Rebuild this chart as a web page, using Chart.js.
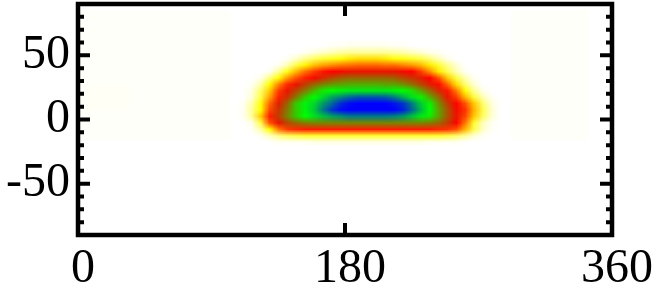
<!DOCTYPE html>
<html>
<head>
<meta charset="utf-8">
<script src="https://cdn.jsdelivr.net/npm/chart.js@4.4.1/dist/chart.umd.min.js"></script>
<style>
  html, body { margin: 0; padding: 0; background: #fff; }
  #wrap { width: 659px; height: 290px; }
</style>
</head>
<body>
<div id="wrap"><canvas id="heatChart" width="659" height="290"></canvas></div>
<script>
// cell centres of the heat patch (degrees)
const lonCenters = [105, 111, 117, 123, 129, 135, 141, 147, 153, 159, 165, 171, 177, 183, 189, 195,
                    201, 207, 213, 219, 225, 231, 237, 243, 249, 255, 261, 267, 273, 279, 285, 291];
const latCenters = [62.5, 57.5, 52.5, 47.5, 42.5, 37.5, 32.5, 27.5, 22.5, 17.5, 12.5, 7.5, 2.5,
                    -2.5, -7.5, -12.5, -17.5];

// intensity in percent, one row per latitude (top row first)
const heatRows = [
  [0,0,0,0,0,0,0,0,0,0,0,0,0,0,0,0,0,0,0,0,0,0,0,0,0,0,0,0,0,0,0,0],
  [0,0,0,0,0,0,0,0,0,0,0,1,1,2,2,2,2,2,1,1,0,0,0,0,0,0,0,0,0,0,0,0],
  [0,0,0,0,0,0,0,0,1,3,5,7,9,10,10,10,10,10,9,8,6,4,2,1,0,0,0,0,0,0,0,0],
  [0,0,0,0,0,0,1,5,11,16,20,22,24,27,28,28,28,27,24,23,21,18,13,7,2,0,0,0,0,0,0,0],
  [0,0,0,0,0,1,7,18,26,31,34,36,38,39,40,40,40,39,39,37,35,32,27,20,11,4,0,0,0,0,0,0],
  [0,0,0,0,1,10,23,32,39,44,48,50,51,52,52,52,52,52,52,51,50,44,36,27,17,7,1,0,0,0,0,0],
  [0,0,0,2,12,25,35,42,47,51,54,57,59,60,60,60,60,60,59,57,55,53,50,42,30,18,7,1,0,0,0,0],
  [0,0,1,8,25,37,46,52,56,60,63,65,66,67,67,67,67,66,66,64,61,57,53,49,40,28,14,4,0,0,0,0],
  [0,0,3,15,30,44,52,57,62,68,73,75,76,77,77,77,77,77,76,75,72,66,60,54,48,38,25,10,2,0,0,0],
  [0,0,4,18,34,47,55,62,70,75,79,84,87,90,92,92,92,91,88,83,78,74,67,60,52,44,32,19,7,1,0,0],
  [0,1,8,24,40,53,60,70,76,79,85,90,96,99,100,100,100,100,98,95,88,80,74,64,56,50,42,30,14,3,0,0],
  [0,1,10,25,43,55,62,70,76,80,88,95,99,100,100,100,100,100,100,97,90,82,75,66,58,51,45,32,17,4,0,0],
  [0,1,10,30,47,56,63,70,75,78,81,84,86,88,88,88,88,88,87,85,81,77,73,66,58,52,43,30,15,4,0,0],
  [0,0,2,18,42,52,57,60,62,63,63,63,63,63,63,63,63,63,63,63,63,63,62,60,56,50,38,20,6,1,0,0],
  [0,0,1,8,25,38,44,46,47,47,47,47,47,47,47,47,47,47,47,47,47,47,47,46,45,42,32,17,5,1,0,0],
  [0,0,0,1,6,12,16,18,20,20,20,20,20,20,20,20,20,20,20,20,20,20,20,20,18,15,10,4,1,0,0,0],
  [0,0,0,0,0,1,1,1,1,2,2,2,2,2,2,2,2,2,2,2,2,2,1,1,1,1,0,0,0,0,0,0]
];

// faint background patches: [lonFrom, lonTo, latFrom, latTo, percent]
const hazeBoxes = [
  [0, 103, -16, 85, 0.5],
  [292, 344, -16, 85, 0.5],
  [5, 35, 7, 27, 1]
];

const yLabelValues = [-50, 0, 50];

// white -> yellow -> red -> green -> blue
const colorStops = [
  [0, [255, 255, 255]],
  [0.25, [255, 255, 0]],
  [0.5, [255, 0, 0]],
  [0.75, [0, 255, 0]],
  [1, [0, 0, 255]]
];

function heatColor(v) {
  v = Math.max(0, Math.min(1, v));
  for (let i = 1; i < colorStops.length; i++) {
    const [p1, c1] = colorStops[i];
    const [p0, c0] = colorStops[i - 1];
    if (v <= p1) {
      const t = (v - p0) / (p1 - p0);
      return c0.map((c, k) => Math.round(c + (c1[k] - c) * t));
    }
  }
  return colorStops[colorStops.length - 1][1];
}

const heatPlugin = {
  id: 'heat',
  beforeDatasetsDraw(chart) {
    const { ctx, chartArea: a, scales: { x, y } } = chart;
    ctx.save();
    ctx.beginPath();
    ctx.rect(a.left, a.top, a.right - a.left, a.bottom - a.top);
    ctx.clip();

    hazeBoxes.forEach(b => {
      const x0 = x.getPixelForValue(b[0]), x1 = x.getPixelForValue(b[1]);
      const y0 = y.getPixelForValue(b[3]), y1 = y.getPixelForValue(b[2]);
      const c = heatColor(b[4] / 100);
      ctx.fillStyle = 'rgb(' + c.join(',') + ')';
      ctx.fillRect(x0, y0, x1 - x0, y1 - y0);
    });

    // one bitmap pixel per cell, stretched over the cells' extent on the axes
    const cols = lonCenters.length, rows = latCenters.length;
    const off = document.createElement('canvas');
    off.width = cols;
    off.height = rows;
    const octx = off.getContext('2d');
    const img = octx.createImageData(cols, rows);
    heatRows.forEach((row, j) => {
      row.forEach((p, i) => {
        const c = heatColor(p / 100);
        const k = (j * cols + i) * 4;
        img.data[k] = c[0];
        img.data[k + 1] = c[1];
        img.data[k + 2] = c[2];
        img.data[k + 3] = p > 0 ? 255 : 0;
      });
    });
    octx.putImageData(img, 0, 0);

    const halfLon = (lonCenters[1] - lonCenters[0]) / 2;
    const halfLat = (latCenters[0] - latCenters[1]) / 2;
    const left = x.getPixelForValue(lonCenters[0] - halfLon);
    const right = x.getPixelForValue(lonCenters[cols - 1] + halfLon);
    const top = y.getPixelForValue(latCenters[0] + halfLat);
    const bottom = y.getPixelForValue(latCenters[rows - 1] - halfLat);
    ctx.imageSmoothingEnabled = true;
    ctx.drawImage(off, left, top, right - left, bottom - top);
    ctx.restore();
  },
  afterDraw(chart) {
    const { ctx, chartArea: a, scales: { x, y } } = chart;
    ctx.save();
    ctx.strokeStyle = '#000';
    ctx.lineWidth = 4;
    ctx.lineCap = 'butt';
    ctx.beginPath();
    y.ticks.forEach(t => {
      if (Math.abs(t.value) >= 90) return;
      const py = y.getPixelForValue(t.value);
      const len = yLabelValues.includes(t.value) ? 12 : 6;
      ctx.moveTo(a.left, py); ctx.lineTo(a.left + len, py);
      ctx.moveTo(a.right, py); ctx.lineTo(a.right - len, py);
    });
    x.ticks.forEach(t => {
      if (t.value <= 0 || t.value >= 360) return;
      const px = x.getPixelForValue(t.value);
      ctx.moveTo(px, a.top); ctx.lineTo(px, a.top + 12);
      ctx.moveTo(px, a.bottom); ctx.lineTo(px, a.bottom - 12);
    });
    ctx.stroke();
    ctx.lineWidth = 4.5;
    ctx.strokeRect(a.left, a.top, a.right - a.left, a.bottom - a.top);
    ctx.restore();
  }
};

const tickFont = { family: "'Liberation Serif', 'Times New Roman', serif", size: 48 };

new Chart(document.getElementById('heatChart'), {
  type: 'scatter',
  data: { datasets: [{ data: [] }] },
  options: {
    responsive: false,
    animation: false,
    events: [],
    layout: { padding: { top: 4, right: 47, left: 0, bottom: 0 } },
    plugins: { legend: { display: false }, tooltip: { enabled: false } },
    scales: {
      x: {
        type: 'linear',
        min: 0,
        max: 360,
        grid: { display: false, drawTicks: false },
        border: { display: false },
        ticks: {
          stepSize: 180,
          autoSkip: false,
          maxRotation: 0,
          padding: 6,
          labelOffset: 5,
          color: '#000',
          font: tickFont
        },
        afterFit(scale) {
          scale.height = 55;
          scale.paddingLeft = 0;
          scale.paddingRight = 0;
        }
      },
      y: {
        type: 'linear',
        min: -90,
        max: 90,
        grid: { display: false, drawTicks: false },
        border: { display: false },
        ticks: {
          stepSize: 10,
          autoSkip: false,
          padding: 8,
          color: '#000',
          font: tickFont,
          callback: v => yLabelValues.includes(v) ? String(v) : ''
        },
        afterFit(scale) {
          scale.width = 78;
          scale.paddingTop = 0;
          scale.paddingBottom = 0;
        }
      }
    }
  },
  plugins: [heatPlugin]
});
</script>
</body>
</html>
